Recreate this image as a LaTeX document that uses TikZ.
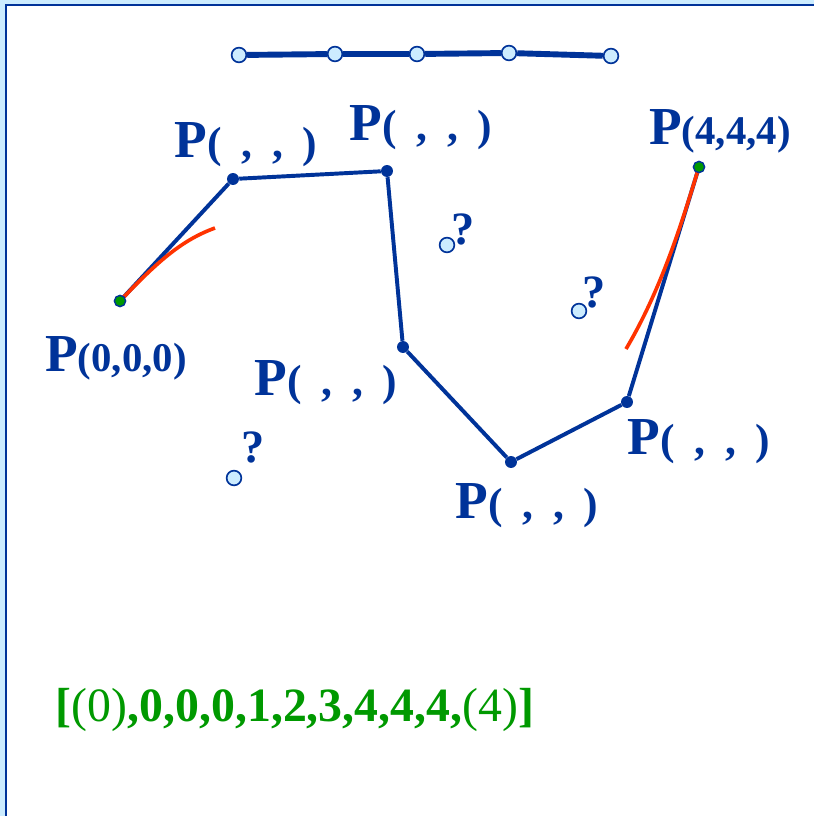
\documentclass[tikz,border=0pt]{standalone}
\usepackage{fontspec}
\setmainfont{Liberation Serif}
\definecolor{pblue}{RGB}{0,51,153}
\definecolor{pgreen}{RGB}{0,153,0}
\definecolor{pred}{RGB}{255,51,0}
\definecolor{plight}{RGB}{204,236,255}
\newcommand{\bigP}{{\fontsize{38}{38}\selectfont P}}
\newcommand{\coordP}[1]{\bigP{\fontsize{29}{29}\selectfont(#1)}}
\newcommand{\emptyP}{\bigP{\fontsize{31}{31}\selectfont(\hspace{0.45em},\hspace{0.45em},\hspace{0.45em})}}

\begin{document}
\begin{tikzpicture}[x=0.025cm,y=-0.025cm,
  poly/.style={pblue,line width=2.8pt},
  knot/.style={circle,fill=pblue,inner sep=0pt,minimum size=8.5pt},
  endknot/.style={circle,fill=pgreen,draw=pblue,line width=1pt,inner sep=0pt,minimum size=8pt},
  hollow/.style={circle,fill=plight,draw=pblue,line width=1.2pt,inner sep=0pt,minimum size=10.5pt},
  lbl/.style={text=pblue,font=\bfseries,inner sep=0pt},
  ask/.style={text=pblue,font=\bfseries\fontsize{33}{33}\selectfont,inner sep=0pt},
  tangent/.style={pred,line width=2.6pt}]
\useasboundingbox (0,0) rectangle (814,816);
% frame
\fill[plight] (0,0) rectangle (814,816);
\fill[white] (5,4) rectangle (814,816);
\draw[pblue,line width=1.5pt] (6,816) -- (6,5) -- (814,5);

% knot line on top
\node[hollow] (t1) at (239,55) {};
\node[hollow] (t2) at (335,54) {};
\node[hollow] (t3) at (417,54) {};
\node[hollow] (t4) at (509,53) {};
\node[hollow] (t5) at (611,56) {};
\draw[pblue,line width=4.2pt] (t1) -- (t2) -- (t3) -- (t4) -- (t5);

% control polygon
\node[knot] (p1) at (233,179) {};
\node[knot] (p2) at (387,171) {};
\node[knot] (p3) at (403,347) {};
\node[knot] (p4) at (511,462) {};
\node[knot] (p5) at (627,402) {};
\draw[poly] (120,301) coordinate (p0) -- (p1) -- (p2) -- (p3) -- (p4) -- (p5) -- (699,167) coordinate (p6);

% end tangents
\coordinate (r1) at (215,228);
\coordinate (r6) at (626,349);
\draw[tangent] (p0) .. controls (158,261) and (182,240) .. (r1);
\draw[tangent] (p6) .. controls (682,222) and (662,288) .. (r6);
\node[endknot] at (p0) {};
\node[endknot] at (p6) {};

% labels
\node[lbl] (l0) at (116,358) {\coordP{0,0,0}};
\node[lbl] (l1) at (246,145) {\emptyP};
\node[lbl] (l2) at (421,128) {\emptyP};
\node[lbl] (l3) at (326,383) {\emptyP};
\node[lbl] (l4) at (527,506) {\emptyP};
\node[lbl] (l5) at (699,442) {\emptyP};
\node[lbl] (l6) at (720,131) {\coordP{4,4,4}};

% unknown points
\node[hollow] (q1) at (447,245) {};
\node[ask] at (463,229) {?};
\node[hollow] (q2) at (579,311) {};
\node[ask] at (594,292) {?};
\node[hollow] (q3) at (234,478) {};
\node[ask] at (253,447) {?};

% knot vector
\node[text=pgreen,inner sep=0pt,font=\fontsize{34}{34}\selectfont] (kv) at (295,710)
  {\textbf{[}(0)\textbf{,0,0,0,1,2,3,4,4,4,}(4)\textbf{]}};
\end{tikzpicture}
\end{document}
